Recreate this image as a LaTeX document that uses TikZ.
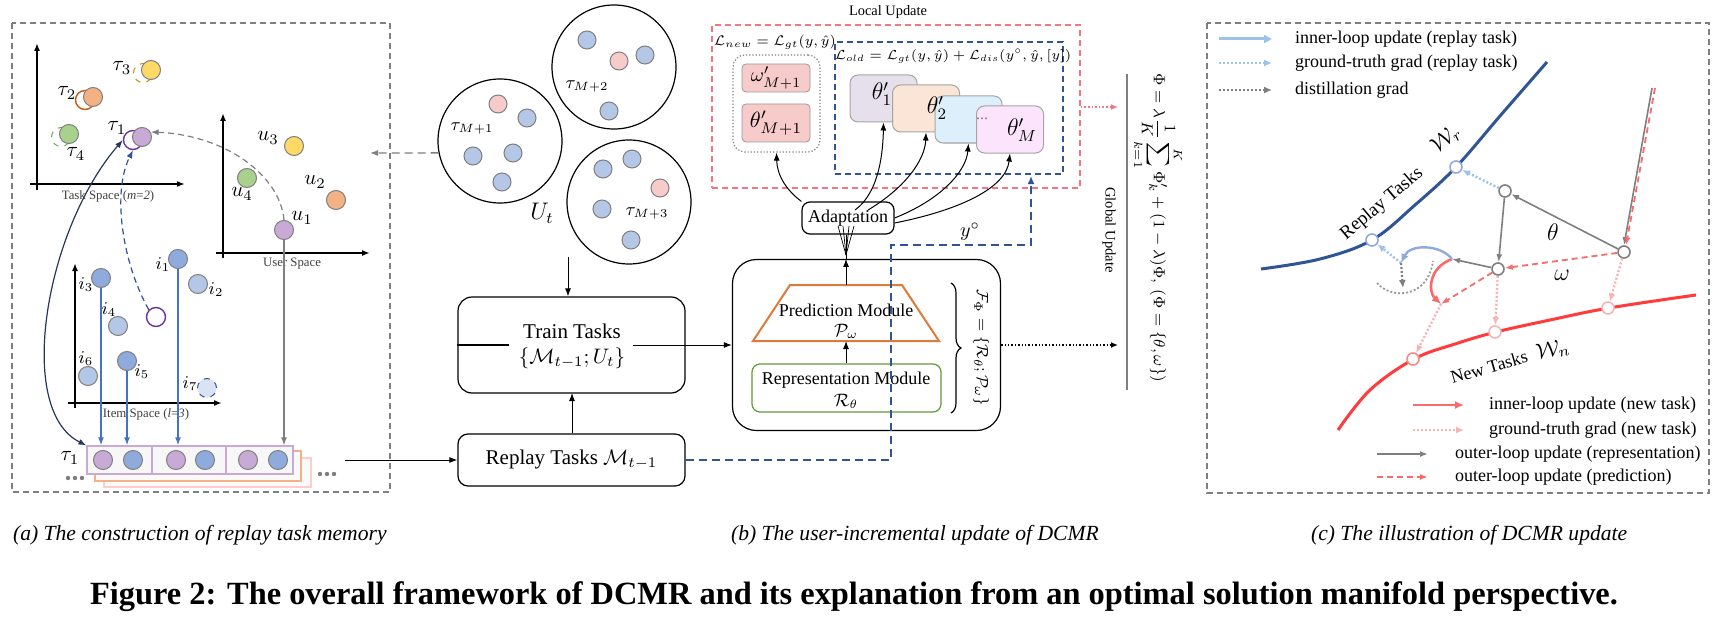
\documentclass[tikz,border=0pt]{standalone}
\usepackage{fix-cm}
\usepackage{amsmath}
\usepackage{fontspec}
\setmainfont{Liberation Serif}
\usetikzlibrary{arrows.meta,decorations.pathreplacing,calc}
\pgfdeclarelayer{bg}
\pgfsetlayers{bg,main}
\newcommand\myfs[1]{\fontsize{#1}{#1}\selectfont}
\definecolor{cblueL}{HTML}{B4C7E7}
\definecolor{cblueM}{HTML}{8FAADC}
\definecolor{cblueD}{HTML}{2F5597}
\definecolor{cblueA}{HTML}{4472C4}
\definecolor{cblueX}{HTML}{DAE3F3}
\definecolor{cpinkL}{HTML}{F8CBCB}
\definecolor{cpurp}{HTML}{C9A9D6}
\definecolor{cpurpD}{HTML}{7030A0}
\definecolor{corangeF}{HTML}{F4B183}
\definecolor{corangeD}{HTML}{C55A11}
\definecolor{ctrap}{HTML}{E07A3A}
\definecolor{cyel}{HTML}{FFD966}
\definecolor{cyelD}{HTML}{BF9000}
\definecolor{cgreenF}{HTML}{A9D18E}
\definecolor{cgreenD}{HTML}{70AD47}
\definecolor{cgreenB}{HTML}{5E9A3A}
\definecolor{credL}{HTML}{F4777F}
\definecolor{cnavy}{HTML}{27375A}
\definecolor{cred}{HTML}{FF3B3B}
\definecolor{credA}{HTML}{F86B6B}
\definecolor{cpinkA}{HTML}{F8B4B4}
\definecolor{clb}{HTML}{9DC3E6}
\definecolor{cgray}{HTML}{7F7F7F}
\definecolor{cgrayT}{HTML}{404040}
\definecolor{cth1}{HTML}{E6E0EC}
\definecolor{cth2}{HTML}{FBE5D6}
\definecolor{cth3}{HTML}{DDEFFB}
\definecolor{cthM}{HTML}{FCE4FC}
\begin{document}
\begin{tikzpicture}[x=0.5pt,y=-0.5pt,
  pdot/.style={circle,draw=cgray,line width=0.5pt,minimum size=9.5pt,inner sep=0pt},
  udot/.style={circle,draw=cgray,line width=0.5pt,minimum size=9pt,inner sep=0pt},
  hnode/.style={circle,fill=white,line width=0.8pt,minimum size=6pt,inner sep=0pt},
  axisarr/.style={line width=0.8pt,-{Latex[length=4pt,width=3pt]}},
  bluearr/.style={cblueA,line width=0.8pt,-{Latex[length=4pt,width=3pt]}},
  thinarr/.style={line width=0.5pt,-{Latex[length=4pt,width=3pt]}},
  lab/.style={font=\myfs{10.5pt}},
  ilab/.style={font=\myfs{9pt}},
  axlab/.style={font=\myfs{6.4pt},text=cgrayT},
  thbox/.style={draw=cgray!70,rounded corners=4pt,minimum width=33.5pt,minimum height=23.5pt,inner sep=0pt,line width=0.5pt},
  legtxt/.style={font=\myfs{9pt},anchor=west},
  grayarr/.style={cgray,line width=0.8pt,-{Latex[length=4pt,width=3pt]}},
  reddash/.style={credA,line width=0.9pt,dash pattern=on 3pt off 2pt,-{Latex[length=4pt,width=3pt]}},
  pinkdot/.style={cpinkA,line width=1.2pt,dash pattern=on 1pt off 1pt,-{Latex[length=4pt,width=3.5pt]}},
  lbdot/.style={clb,line width=1.2pt,dash pattern=on 1pt off 1pt,-{Latex[length=4pt,width=3.5pt]}},
  graydot/.style={cgray,line width=1.1pt,dash pattern=on 1pt off 1pt,-{Latex[length=4pt,width=3.5pt]}}
]
\useasboundingbox (0,0) rectangle (1734,631);
\fill[white] (0,0) rectangle (1734,631);

% ================= Panel (a) =================
\draw[cgray,line width=0.6pt,dash pattern=on 3pt off 2pt] (12,23) rectangle (390,492);
\draw[axisarr] (30,184) -- (185,184);
\draw[axisarr] (37,190) -- (37,43);
\draw[axisarr] (216,253) -- (370,253);
\draw[axisarr] (223,258) -- (223,113);
\draw[axisarr] (68,403) -- (222,403);
\draw[axisarr] (75,408) -- (75,263);
\node[axlab] (tsl) at (108,196) {Task Space (\textit{m}=\textit{2})};
\node[axlab] (usl) at (292,264) {User Space};
\node[axlab] (isl) at (146,414) {Item Space (\textit{l}=\textit{3})};

% task space
\node[pdot,draw=cyelD,dashed] (t3g) at (143,73) {};
\node[pdot,fill=cyel] (t3) at (151,70) {};
\node[pdot,draw=corangeD,line width=0.7pt] (t2g) at (85,100) {};
\node[pdot,fill=corangeF] (t2) at (93,97) {};
\node[pdot,draw=cgreenD,dashed] (t4g) at (61,137) {};
\node[pdot,fill=cgreenF] (t4) at (69,134) {};
\node[pdot,draw=cpurpD,line width=0.7pt] (t1g) at (133,140) {};
\node[pdot,fill=cpurp] (t1) at (142,137) {};
\node[lab] (lt3) at (122,68) {$\tau_3$};
\node[lab] (lt2) at (67,93) {$\tau_2$};
\node[lab] (lt4) at (76,154) {$\tau_4$};
\node[lab] (lt1) at (117,128) {$\tau_1$};

% user space
\node[pdot,fill=cyel] (u3) at (294,146) {};
\node[pdot,fill=cgreenF] (u4) at (247,178) {};
\node[pdot,fill=corangeF] (u2) at (336,200) {};
\node[pdot,fill=cpurp] (u1) at (284,230) {};
\node[lab] (lu3) at (268,138) {$u_3$};
\node[lab] (lu4) at (242,194) {$u_4$};
\node[lab] (lu2) at (315,182) {$u_2$};
\node[lab] (lu1) at (302,218) {$u_1$};

% item space
\node[pdot,fill=cblueM] (i1) at (178,259) {};
\node[pdot,fill=cblueL] (i2) at (198,284) {};
\node[pdot,fill=cblueM] (i3) at (101,278) {};
\node[pdot,fill=cblueL] (i4) at (118,326) {};
\node[pdot,fill=cblueM] (i5) at (127,361) {};
\node[pdot,fill=cblueL] (i6) at (88,376) {};
\node[pdot,fill=cblueX,draw=cblueD,dashed] (i7) at (207,388) {};
\node[pdot,draw=cpurpD,fill=white,line width=0.7pt] (cen) at (156,317) {};
\node[ilab] (li1) at (163,265) {$i_1$};
\node[ilab] (li2) at (216,290) {$i_2$};
\node[ilab] (li3) at (86,285) {$i_3$};
\node[ilab] (li4) at (109,310) {$i_4$};
\node[ilab] (li5) at (142,372) {$i_5$};
\node[ilab] (li6) at (86,359) {$i_6$};
\node[ilab] (li7) at (190,384) {$i_7$};

% memory
\draw[draw=pink!80,fill=gray!4,line width=0.6pt] (104,458) rectangle (311,487);
\draw[draw=corangeF,fill=gray!4,line width=0.8pt] (95,451) rectangle (301,481);
\node[draw=cpurp,fill=gray!6,line width=0.6pt,minimum width=103pt,minimum height=14pt,inner sep=0pt] (mem) at (190,460) {};
\draw[cpurp,line width=0.6pt] (152,446) -- (152,474) (226,446) -- (226,474);
\node[pdot,fill=cpurp] (m1) at (103,460) {};
\node[pdot,fill=cblueM] (m2) at (133,460) {};
\node[pdot,fill=cpurp] (m3) at (176,460) {};
\node[pdot,fill=cblueM] (m4) at (205,460) {};
\node[pdot,fill=cpurp] (m5) at (248,460) {};
\node[pdot,fill=cblueM] (m6) at (278,460) {};
\node[lab] (lm) at (70,458) {$\tau_1$};
\foreach \xx in {68,75,82} \fill[cgray] (\xx,478) circle[radius=1.1pt];
\foreach \xx in {320,327,334} \fill[cgray] (\xx,474) circle[radius=1.1pt];
\coordinate (memout) at (345,460);

\draw[bluearr] (i3.south) -- (i3.south |- mem.north);
\draw[bluearr] (i5.south) -- (i5.south |- mem.north);
\draw[bluearr] (i1.south) -- (i1.south |- mem.north);
\draw[cgray,line width=0.6pt,-{Latex[length=4pt,width=3pt]}] (u1.south) -- (u1.south |- mem.north);

\begin{pgfonlayer}{bg}
\draw[cblueA,line width=0.4pt,densely dotted] (cen) -- (i3) (cen) -- (i1) (cen) -- (i5) (cen) -- (i7);
\draw[cgray!90!black,line width=0.5pt,densely dotted] (i3.north east) .. controls (150,235) and (240,205) .. (u1.west);
\draw[cgray!90!black,line width=0.5pt,densely dotted] (i1.north east) .. controls (210,238) and (250,226) .. (u1.west);
\draw[cgrayT,line width=0.5pt] (i5.east) .. controls (190,330) and (250,280) .. (u1.south west);
\draw[cgray,line width=0.5pt] (i7.north east) .. controls (250,350) and (285,300) .. (u1.south);
\end{pgfonlayer}
\draw[cnavy,line width=0.6pt,{Latex[length=4pt,width=3pt]}-{Latex[length=4pt,width=3pt]}] (t1g.west) .. controls (45,230) and (15,410) .. (mem.north west);
\draw[cblueD,line width=0.6pt,densely dashed,-{Latex[length=4pt,width=3pt]}] (cen.north west) .. controls (122,262) and (112,192) .. (t1g.south);
\draw[cgray,line width=0.6pt,densely dashed,-{Latex[length=4pt,width=3pt]}] (u1.north) .. controls (280,175) and (225,135) .. (t1.30);

% ================= Panel (b) =================
\node[circle,draw,line width=0.6pt,minimum size=62pt,inner sep=0pt] (cM1) at (500,141) {};
\node[circle,draw,line width=0.6pt,minimum size=62pt,inner sep=0pt] (cM2) at (614,67) {};
\node[circle,draw,line width=0.6pt,minimum size=62pt,inner sep=0pt] (cM3) at (629,202) {};
\node[udot,fill=cpinkL] (a1) at (498,104) {};
\node[udot,fill=cblueL] (a2) at (527,118) {};
\node[udot,fill=cblueL] (a3) at (473,156) {};
\node[udot,fill=cblueL] (a4) at (513,153) {};
\node[udot,fill=cblueL] (a5) at (502,182) {};
\node[udot,fill=cblueL] (b1) at (587,40) {};
\node[udot,fill=cpinkL] (b2) at (619,61) {};
\node[udot,fill=cblueL] (b3) at (645,55) {};
\node[udot,fill=cblueL] (b4) at (609,111) {};
\node[udot,fill=cblueL] (c1) at (603,169) {};
\node[udot,fill=cblueL] (c2) at (632,159) {};
\node[udot,fill=cpinkL] (c3) at (660,188) {};
\node[udot,fill=cblueL] (c4) at (602,209) {};
\node[udot,fill=cblueL] (c5) at (631,240) {};
\node[font=\myfs{9pt}] (lM1) at (472,128) {$\tau_{M+1}$};
\node[font=\myfs{9pt}] (lM2) at (587,86) {$\tau_{M+2}$};
\node[font=\myfs{9pt}] (lM3) at (647,213) {$\tau_{M+3}$};
\node[font=\myfs{12pt}] (lUt) at (542,213) {$U_t$};
\coordinate (uaw) at (370,153);
\draw[cgray,line width=0.7pt,dash pattern=on 4pt off 2.5pt,-{Latex[length=4pt,width=3pt]}] (cM1.191) -- (uaw);

\node[draw,rounded corners=7pt,line width=0.6pt,minimum width=113.5pt,minimum height=48pt,inner sep=0pt] (train) at (571.5,345) {};
\node[fill=white,font=\myfs{10.5pt},inner sep=1pt] (trt) at (572,331) {Train Tasks};
\node[font=\myfs{10.5pt}] (trm) at (572,358) {$\{\mathcal{M}_{t-1};U_t\}$};
\node[draw,rounded corners=5pt,line width=0.6pt,minimum width=113.5pt,minimum height=26pt,inner sep=0pt,font=\myfs{10.5pt}] (replay) at (571.5,460) {Replay Tasks $\mathcal{M}_{t-1}$};
\coordinate (ut) at (568,257);
\draw[thinarr] (ut) -- (ut |- train.north);
\draw[thinarr] (replay.north -| 572,0) -- (572,393);
\draw[thinarr] (memout) -- (replay.west);

\node[draw,rounded corners=12pt,line width=0.6pt,minimum width=134pt,minimum height=85.5pt,inner sep=0pt] (big) at (866.5,345) {};
\draw[line width=0.6pt] (train.west) -- (509,345);
\draw[thinarr] (633,345) -- (big.west);
\draw[ctrap,line width=1pt] (753,341) -- (790,285) -- (902,285) -- (939,341) -- cycle;
\coordinate (predtop) at (846,285);
\coordinate (predbot) at (846,341);
\node[font=\myfs{9pt}] (prt) at (846,310) {Prediction Module};
\node[font=\myfs{9pt}] (prm) at (846,331) {$\mathcal{P}_\omega$};
\node[draw=cgreenB,rounded corners=4pt,line width=0.6pt,minimum width=94.5pt,minimum height=24pt,inner sep=0pt] (rep) at (846.5,388) {};
\node[font=\myfs{9pt}] (rpt) at (846,380) {Representation Module};
\node[font=\myfs{9pt}] (rpm) at (846,401) {$\mathcal{R}_\theta$};
\draw[thinarr] (rep.north -| predbot) -- (predbot);
\draw[decorate,decoration={brace,amplitude=5pt},line width=0.6pt] (951,283) -- (951,413);
\node[rotate=-90,font=\myfs{8pt}] (ffor) at (981,348) {$\mathcal{F}_\Phi=\{\mathcal{R}_\theta;\mathcal{P}_\omega\}$};

% local update
\node[font=\myfs{7.2pt}] (lut) at (888,12) {Local Update};
\node[draw=credL,line width=0.8pt,dash pattern=on 3pt off 2pt,minimum width=184pt,minimum height=81.5pt,inner sep=0pt] (loc) at (896,106.5) {};
\node[font=\myfs{7pt},inner sep=1pt] (lnew) at (775,42) {$\mathcal{L}_{new}=\mathcal{L}_{gt}(y,\hat{y})$};
\node[draw=cgray,densely dotted,rounded corners=6pt,line width=0.6pt,minimum width=43.5pt,minimum height=48.5pt,inner sep=0pt] (newbox) at (776.5,103.5) {};
\node[draw=cgray!80,fill=cpinkL,rounded corners=2pt,minimum width=34pt,minimum height=14pt,inner sep=0pt,font=\myfs{10pt}] (wbox) at (776,78) {$\omega'_{M+1}$};
\node[draw=cgray!80,fill=cpinkL,rounded corners=2pt,minimum width=34pt,minimum height=19pt,inner sep=0pt,font=\myfs{11pt}] (tbox) at (776,123) {$\theta'_{M+1}$};
\node[draw=cblueD,line width=0.8pt,dash pattern=on 3pt off 2pt,minimum width=114pt,minimum height=66pt,inner sep=0pt] (oldbox) at (949,108) {};
\node[font=\myfs{6.6pt},inner sep=1pt] (lold) at (953,56) {$\mathcal{L}_{old}=\mathcal{L}_{gt}(y,\hat{y})+\mathcal{L}_{dis}(y^{\circ},\hat{y},[y])$};
\node[thbox,fill=cth1] (th1) at (883.5,98.5) {};
\node[thbox,fill=cth2] (th2) at (926,108.5) {};
\node[thbox,fill=cth3] (th3) at (968.5,119.5) {};
\node[thbox,fill=cthM] (thM) at (1010,129.5) {};
\node[font=\myfs{12pt}] (lth1) at (882,94) {$\theta'_1$};
\node[font=\myfs{12pt}] (lth2) at (937,108) {$\theta'_2$};
\node[font=\myfs{8pt},text=cgray] (lth3) at (982,119) {...};
\node[font=\myfs{12pt}] (lthM) at (1022,130) {$\theta'_M$};

\node[draw,rounded corners=4pt,line width=0.6pt,minimum width=46pt,minimum height=16pt,inner sep=0pt,font=\myfs{9pt}] (adapt) at (848,218) {Adaptation};
\draw[thinarr] (adapt.north west) .. controls (786,190) and (777,175) .. (newbox.south);
\draw[thinarr] (855,210) .. controls (880,192) and (883,150) .. (th1.south);
\draw[thinarr] (868,210) .. controls (905,188) and (925,160) .. (th2.south);
\draw[thinarr] (adapt.east) .. controls (940,200) and (966,172) .. (th3.south);
\draw[thinarr] ($(adapt.east)+(0,5)$) .. controls (960,210) and (1006,188) .. (thM.south);
\draw[thinarr] (predtop) -- (big.north -| predtop);
\draw[line width=0.5pt] (big.north -| predtop) -- (adapt.south -| predtop);
\coordinate (fan) at (846,255);
\foreach \fx in {838,843,849,854} \draw[line width=0.35pt] (fan) -- (\fx,226);

% blue dashed feedback
\draw[cblueD,line width=1pt,dash pattern=on 4pt off 2.5pt,-{Latex[length=4pt,width=3.5pt]}] (replay.east) -- (891,460) -- (891,245) -- (1031,245) -- (1031,176);
\node[font=\myfs{10pt}] (yo) at (970,232) {$y^{\circ}$};

% global update
\coordinate (gtop) at (1127,74);
\coordinate (gbot) at (1127,390);
\draw[cgray,line width=0.7pt] (gtop) -- (gbot);
\draw[credL,line width=0.8pt,densely dotted,-{Latex[length=3.5pt,width=3pt]}] (loc.east |- 0,107) -- (1118,107);
\draw[line width=0.7pt,densely dotted,-{Latex[length=3.5pt,width=3pt]}] (big.east) -- (1118,345);
\node[rotate=-90,font=\myfs{7.3pt}] (glu) at (1109,230) {Global Update};
\node[rotate=-90,font=\myfs{8pt}] (gform) at (1158,228) {$\displaystyle\Phi=\lambda\frac{1}{K}\sum_{k=1}^{K}\Phi'_k+(1-\lambda)\Phi,\ (\Phi=\{\theta,\omega\})$};

% ================= Panel (c) =================
\draw[cgray,line width=0.6pt,dash pattern=on 3pt off 2pt] (1207,23) rectangle (1709,493);
\draw[clb,line width=1.5pt,-{Triangle[length=4pt,width=4pt]}] (1219,39) -- (1272,39);
\draw[lbdot] (1219,63) -- (1272,63);
\draw[graydot] (1219,90) -- (1272,90);
\node[legtxt] (lg1) at (1288,39) {inner-loop update (replay task)};
\node[legtxt] (lg2) at (1288,63) {ground-truth grad (replay task)};
\node[legtxt] (lg3) at (1288,90) {distillation grad};

\draw[cblueD,line width=1.5pt] plot[smooth,tension=0.6] coordinates {(1261,269) (1320,259) (1372,240) (1415,205) (1456,167) (1500,116) (1547,62)};
\draw[cred,line width=1.5pt] plot[smooth,tension=0.6] coordinates {(1338,430) (1370,390) (1414,359) (1455,344) (1496,332) (1550,320) (1609,308) (1696,295)};
\node[rotate=40,font=\myfs{9.5pt},inner sep=0pt] (rtl) at (1382,204) {Replay Tasks};
\node[rotate=40,font=\myfs{11pt},inner sep=0pt] (wr) at (1446,139) {$\mathcal{W}_r$};
\node[rotate=16,font=\myfs{9pt},inner sep=0pt] (ntl) at (1489,367) {New Tasks};
\node[rotate=12,font=\myfs{11pt},inner sep=0pt] (wn) at (1553,350) {$\mathcal{W}_n$};

\node[hnode,draw=cblueM] (bw1) at (1372,240) {};
\node[hnode,draw=cblueM] (bw2) at (1456,167) {};
\node[hnode,draw=cgray] (nA) at (1505,191) {};
\node[hnode,draw=cgray] (nB) at (1624,252) {};
\node[hnode,draw=cgray] (nC) at (1498,269) {};
\node[hnode,draw=credA!80] (pn1) at (1413,359) {};
\node[hnode,draw=cpinkA] (pn2) at (1495,332) {};
\node[hnode,draw=cpinkA] (pn3) at (1608,308) {};
\coordinate (jP) at (1452,259);
\coordinate (rtip) at (1441,304);
\coordinate (btip) at (1401,263);
\coordinate (gdn) at (1403,288);
\coordinate (topB) at (1652,88);

\draw[grayarr] (topB) -- (nB.north);
\draw[credA,line width=0.9pt,dash pattern=on 3pt off 2pt,-{Latex[length=4pt,width=3pt]}] ($(topB)+(3,0)$) -- ($(nB.north)+(2,0)$);
\draw[grayarr] (nB) -- (nA);
\draw[grayarr] (nA) -- (nC);
\draw[grayarr] (nC) -- (jP);
\draw[reddash] (nB) -- (nC);
\draw[reddash] (nC) -- (rtip);
\draw[credA,line width=1.3pt,-{Latex[length=4.5pt,width=4pt]}] (jP) .. controls (1428,268) and (1428,292) .. (rtip);
\draw[cblueM,line width=1.2pt,-{Latex[length=4.5pt,width=4pt]}] (jP) .. controls (1440,244) and (1410,244) .. (btip);
\draw[lbdot] (nA) -- (bw2);
\draw[lbdot] (btip) -- (bw1);
\draw[graydot] (btip) -- (gdn);
\draw[cgray!80,line width=0.9pt,dash pattern=on 1pt off 1pt] (1377,283) .. controls (1392,300) and (1428,298) .. (1433,261);
\draw[pinkdot] (rtip) -- (pn1);
\draw[pinkdot] (nC) -- (pn2);
\draw[pinkdot] (nB) -- (pn3);
\node[font=\myfs{12pt}] (lth) at (1553,232) {$\theta$};
\node[font=\myfs{12pt}] (lom) at (1562,275) {$\omega$};

\draw[credA,line width=1.3pt,-{Latex[length=4.5pt,width=4pt]}] (1413,405) -- (1464,405);
\draw[pinkdot] (1413,430) -- (1464,430);
\draw[grayarr] (1377,454) -- (1428,454);
\draw[reddash] (1377,477) -- (1428,477);
\node[legtxt] (lg4) at (1482,405) {inner-loop update (new task)};
\node[legtxt] (lg5) at (1482,430) {ground-truth grad (new task)};
\node[legtxt] (lg6) at (1448,454) {outer-loop update (representation)};
\node[legtxt] (lg7) at (1448,477) {outer-loop update (prediction)};

% ================= Captions =================
\node[anchor=west,font=\myfs{10.8pt}\itshape] (capa) at (6,535) {(a) The construction of replay task memory};
\node[anchor=west,font=\myfs{10.8pt}\itshape] (capb) at (724,535) {(b) The user-incremental update of DCMR};
\node[anchor=west,font=\myfs{10.8pt}\itshape] (capc) at (1304,535) {(c) The illustration of DCMR update};
\node[font=\myfs{16.2pt}\bfseries] (capm) at (854,597) {Figure 2: The overall framework of DCMR and its explanation from an optimal solution manifold perspective.};
\end{tikzpicture}
\end{document}
